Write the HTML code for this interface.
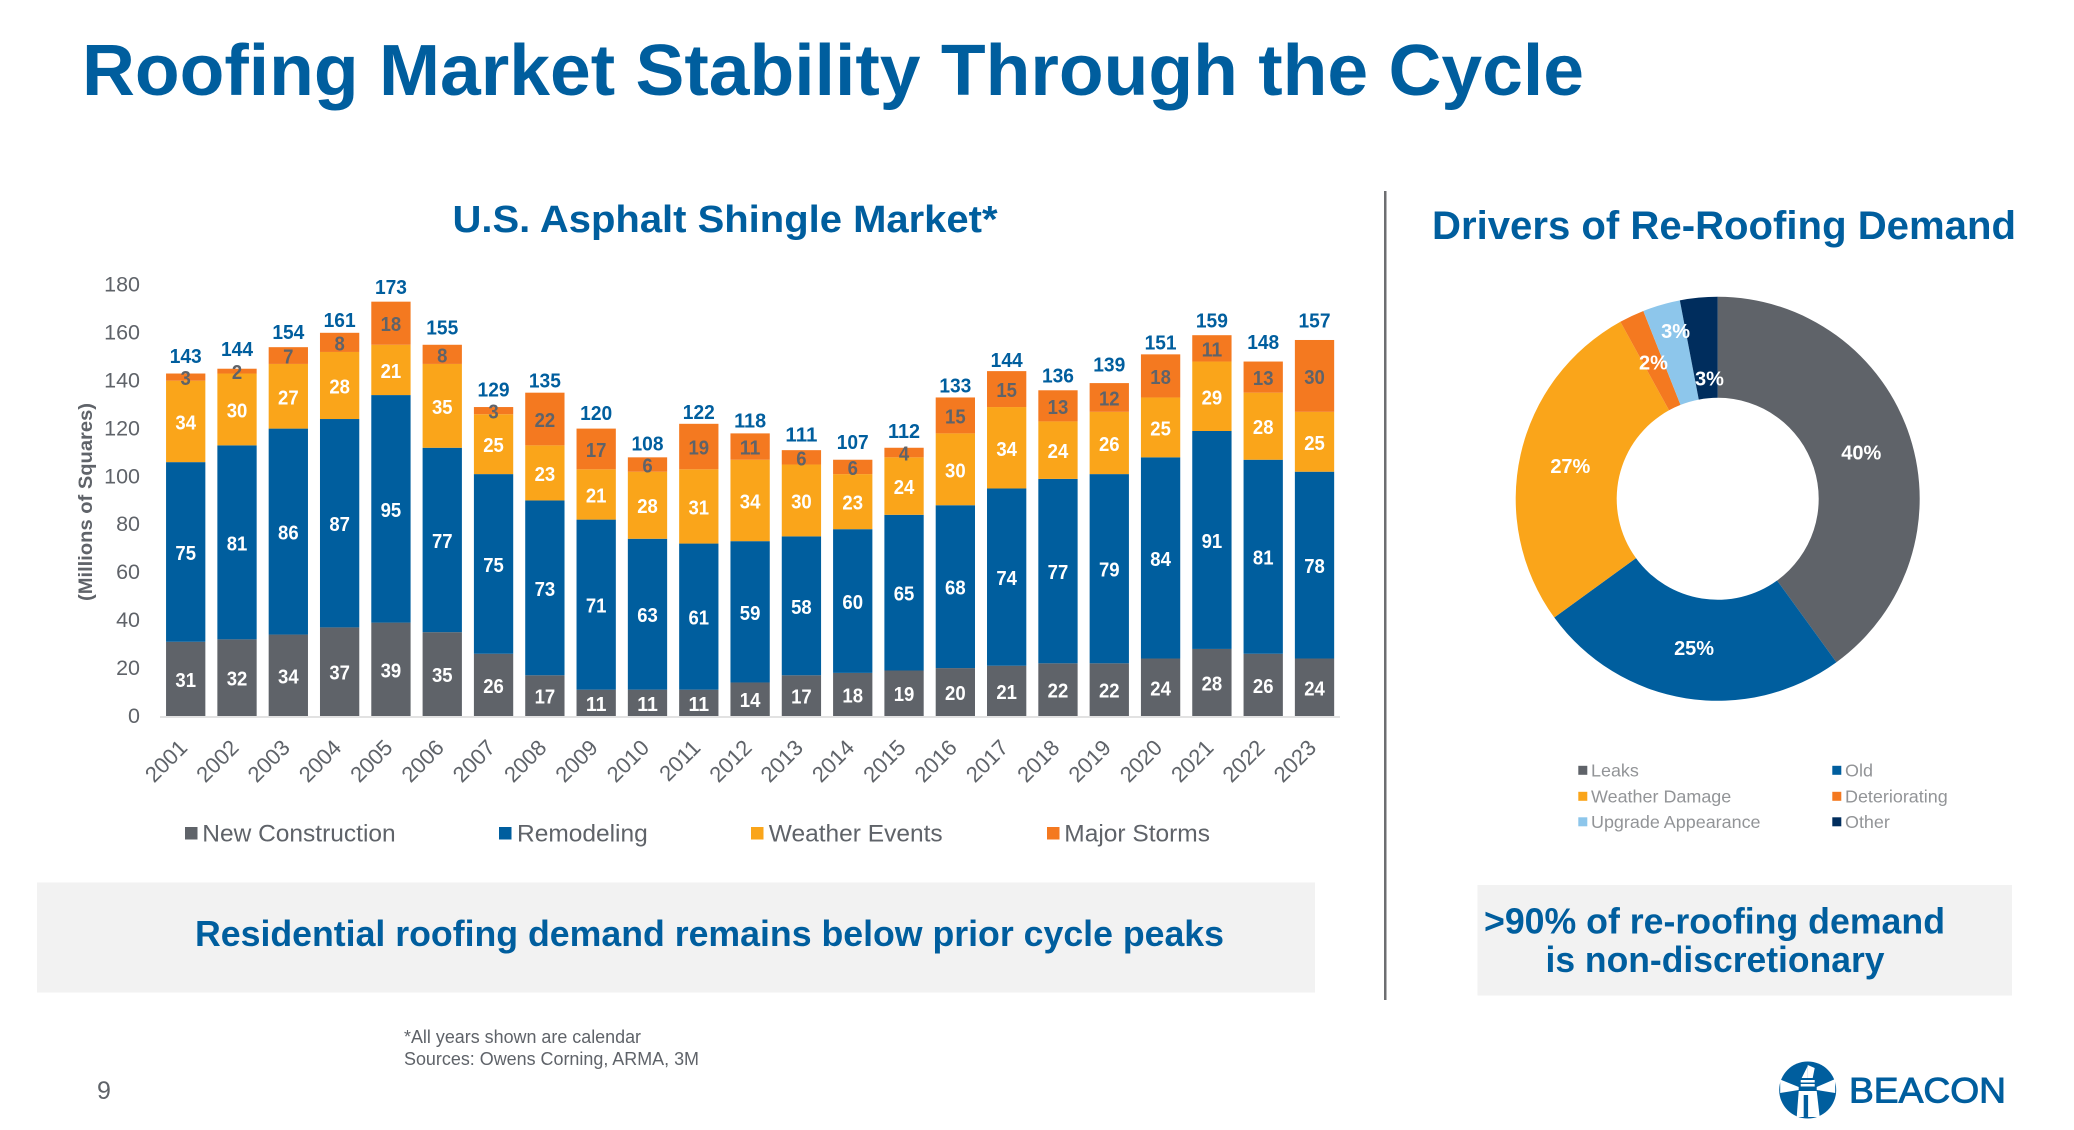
<!DOCTYPE html>
<html lang="en">
<head>
<meta charset="utf-8">
<title>Roofing Market Stability Through the Cycle</title>
<style>
html,body{margin:0;padding:0;background:#fff;width:2074px;height:1130px;overflow:hidden}
svg{display:block}
text{font-family:"Liberation Sans",Arial,sans-serif}
</style>
</head>
<body>
<svg id="slide" xmlns="http://www.w3.org/2000/svg" width="2074" height="1130" viewBox="0 0 2074 1130">
  <text x="82" y="95" font-size="72" font-weight="700" fill="#005E9E" textLength="1502" lengthAdjust="spacingAndGlyphs">Roofing Market Stability Through the Cycle</text>
  <text x="452.5" y="232" font-size="38" font-weight="700" fill="#005E9E" textLength="545" lengthAdjust="spacingAndGlyphs">U.S. Asphalt Shingle Market*</text>
  <text x="1432" y="239" font-size="40" font-weight="700" fill="#005E9E" textLength="584" lengthAdjust="spacingAndGlyphs">Drivers of Re-Roofing Demand</text>
  <rect x="1384" y="191" width="2.5" height="809" fill="#6D6E71"/>

  <g id="bar-chart"></g>
  <text transform="translate(92,502) rotate(-90)" text-anchor="middle" font-size="19" font-weight="700" fill="#5F6369" textLength="198" lengthAdjust="spacingAndGlyphs">(Millions of Squares)</text>

  <g>
    <g>
      <rect x="185" y="827" width="12.5" height="12.5" fill="#5F6369"/>
      <text x="202.3" y="841.5" font-size="24.5" fill="#5F6369">New Construction</text>
    </g>
    <g>
      <rect x="499" y="827" width="12.5" height="12.5" fill="#005E9E"/>
      <text x="517" y="841.5" font-size="24.5" fill="#5F6369">Remodeling</text>
    </g>
    <g>
      <rect x="751" y="827" width="12.5" height="12.5" fill="#FAA51A"/>
      <text x="768.8" y="841.5" font-size="24.5" fill="#5F6369">Weather Events</text>
    </g>
    <g>
      <rect x="1047" y="827" width="12.5" height="12.5" fill="#F47920"/>
      <text x="1064.3" y="841.5" font-size="24.5" fill="#5F6369">Major Storms</text>
    </g>
  </g>

  <g id="donut-chart"></g>

  <g font-size="17.95" fill="#929497">
    <g>
      <rect x="1578.3" y="765.8" width="9" height="9" fill="#5F6369"/>
      <text x="1591" y="776.5">Leaks</text>
    </g>
    <g>
      <rect x="1832.3" y="765.8" width="9" height="9" fill="#005E9E"/>
      <text x="1845" y="776.5">Old</text>
    </g>
    <g>
      <rect x="1578.3" y="791.8" width="9" height="9" fill="#FAA51A"/>
      <text x="1591" y="802.5">Weather Damage</text>
    </g>
    <g>
      <rect x="1832.3" y="791.8" width="9" height="9" fill="#F47920"/>
      <text x="1845" y="802.5">Deteriorating</text>
    </g>
    <g>
      <rect x="1578.3" y="817.3" width="9" height="9" fill="#8DC6EB"/>
      <text x="1591" y="828">Upgrade Appearance</text>
    </g>
    <g>
      <rect x="1832.3" y="817.3" width="9" height="9" fill="#002D5D"/>
      <text x="1845" y="828">Other</text>
    </g>
  </g>

  <g>
    <rect x="37" y="882.5" width="1278" height="110" fill="#F2F2F2"/>
    <text x="195" y="946" font-size="36" font-weight="700" fill="#005E9E" textLength="1029" lengthAdjust="spacingAndGlyphs">Residential roofing demand remains below prior cycle peaks</text>
  </g>
  <g>
    <rect x="1477.5" y="885" width="534.5" height="110.5" fill="#F2F2F2"/>
    <text x="1484" y="933.3" font-size="36" font-weight="700" fill="#005E9E" textLength="461" lengthAdjust="spacingAndGlyphs">&gt;90% of re-roofing demand</text>
    <text x="1545.5" y="972.2" font-size="36" font-weight="700" fill="#005E9E" textLength="339" lengthAdjust="spacingAndGlyphs">is non-discretionary</text>
  </g>

  <text x="404" y="1043" font-size="18" fill="#5F6369" textLength="237" lengthAdjust="spacingAndGlyphs">*All years shown are calendar</text>
  <text x="404" y="1065" font-size="18" fill="#5F6369" textLength="295" lengthAdjust="spacingAndGlyphs">Sources: Owens Corning, ARMA, 3M</text>
  <text x="97" y="1099" font-size="25" fill="#5F6369">9</text>

  <g>
    <g transform="translate(1807.7,1090)">
      <circle cx="0" cy="0" r="28.5" fill="#005E9E"/>
      <path d="M-27.5,-10.5 L-9,-3 L-9,0 L-27.5,3 Z" fill="#fff"/>
      <path d="M27.5,-11 L9,-3 L9,0 L27.5,3 Z" fill="#fff"/>
      <path d="M0,-25 L7,-22 L5,-12 L0,-12 Z" fill="#fff"/>
      <path d="M0,-24 L-6,-12 L0,-12 Z" fill="#fff"/>
      <rect x="-7" y="-10" width="14" height="2.5" fill="#fff"/>
      <rect x="-7" y="-6" width="14" height="2.5" fill="#fff"/>
      <path d="M-9,1 L9,1 L12,27 L-11,27 Z" fill="#fff"/>
      <rect x="-4" y="5" width="4.4" height="23" fill="#005E9E"/>
    </g>
    <text x="1849" y="1102.7" font-size="35" font-weight="400" fill="#005E9E" stroke="#005E9E" stroke-width="0.9" textLength="157" lengthAdjust="spacingAndGlyphs">BEACON</text>
  </g>
</svg>

<script>
/* ---------- bar chart data ---------- */
const years = ['2001','2002','2003','2004','2005','2006','2007','2008','2009','2010','2011','2012','2013','2014','2015','2016','2017','2018','2019','2020','2021','2022','2023'];
const newConstruction = [31,32,34,37,39,35,26,17,11,11,11,14,17,18,19,20,21,22,22,24,28,26,24];
const remodeling = [75,81,86,87,95,77,75,73,71,63,61,59,58,60,65,68,74,77,79,84,91,81,78];
const weatherEvents = [34,30,27,28,21,35,25,23,21,28,31,34,30,23,24,30,34,24,26,25,29,28,25];
const majorStorms = [3,2,7,8,18,8,3,22,17,6,19,11,6,6,4,15,15,13,12,18,11,13,30];
const totalLabels = [143,144,154,161,173,155,129,135,120,108,122,118,111,107,112,133,144,136,139,151,159,148,157];
const yTicks = [0,20,40,60,80,100,120,140,160,180];

/* ---------- donut data ---------- */
const driverNames = ['Leaks','Old','Weather Damage','Deteriorating','Upgrade Appearance','Other'];
const driverShares = [40,25,27,2,3,3];

/* ---------- styling / layout ---------- */
const seriesKeys = ['new-construction','remodeling','weather-events','major-storms'];
const seriesColors = ['#5F6369','#005E9E','#FAA51A','#F47920'];
const seriesLabelColors = ['#FFFFFF','#FFFFFF','#FFFFFF','#5F6369'];
const totalLabelLift = [18,20,15.5,13,15,17.6,18,12.6,16,14,12,13,16,18,17.3,12.2,11.5,15,19,12,15,20,20];
const sliceColors = ['#5F6369','#005E9E','#FAA51A','#F47920','#8DC6EB','#002D5D'];
const sliceLabelNudgeX = [0,0,0,0,0,6];
const sliceLabelNudgeY = [0,0,0,0,-23,30];

const SVG_NS = 'http://www.w3.org/2000/svg';
const BASE_Y = 716;
const PX_PER_UNIT = 2.395;
const FIRST_X = 185.7;
const STEP_X = 51.31;
const BAR_W = 39.3;
function yScale(v){ return BASE_Y - v * PX_PER_UNIT; }
function xScale(i){ return FIRST_X + i * STEP_X; }

const barChart = document.getElementById('bar-chart');
const series = [newConstruction, remodeling, weatherEvents, majorStorms];

/* y-axis tick labels */
yTicks.forEach(function(t){
  const el = document.createElementNS(SVG_NS,'text');
  
  
  el.setAttribute('x', 140);
  el.setAttribute('y', yScale(t) + 6.8);
  el.setAttribute('text-anchor', 'end');
  el.setAttribute('font-size', '21.5');
  el.setAttribute('fill', '#5F6369');
  el.textContent = String(t);
  barChart.appendChild(el);
});

/* stacked bars + segment labels */
years.forEach(function(year, i){
  let cum = 0;
  series.forEach(function(values, s){
    const v = values[i];
    const rect = document.createElementNS(SVG_NS,'rect');
    
    
    rect.setAttribute('x', xScale(i) - BAR_W / 2);
    rect.setAttribute('y', yScale(cum + v));
    rect.setAttribute('width', BAR_W);
    rect.setAttribute('height', v * PX_PER_UNIT);
    rect.setAttribute('fill', seriesColors[s]);
    barChart.appendChild(rect);
    cum += v;
  });
});
years.forEach(function(year, i){
  let cum = 0;
  series.forEach(function(values, s){
    const v = values[i];
    const str = String(v);
    const label = document.createElementNS(SVG_NS,'text');
    
    
    label.setAttribute('x', xScale(i));
    label.setAttribute('y', yScale(cum + v / 2) + 8);
    label.setAttribute('text-anchor', 'middle');
    label.setAttribute('font-size', '20');
    label.setAttribute('font-weight', '700');
    label.setAttribute('fill', seriesLabelColors[s]);
    label.setAttribute('textLength', str.length * 10.3);
    label.setAttribute('lengthAdjust', 'spacingAndGlyphs');
    label.textContent = str;
    barChart.appendChild(label);
    cum += v;
  });
  const top = newConstruction[i] + remodeling[i] + weatherEvents[i] + majorStorms[i];
  const total = document.createElementNS(SVG_NS,'text');
  
  
  total.setAttribute('x', xScale(i));
  total.setAttribute('y', yScale(top) - totalLabelLift[i] + 7.3);
  total.setAttribute('text-anchor', 'middle');
  total.setAttribute('font-size', '20');
  total.setAttribute('font-weight', '700');
  total.setAttribute('fill', '#005E9E');
  total.setAttribute('textLength', 32);
  total.setAttribute('lengthAdjust', 'spacingAndGlyphs');
  total.textContent = String(totalLabels[i]);
  barChart.appendChild(total);

  const tick = document.createElementNS(SVG_NS,'text');
  const tx = xScale(i) + 3;
  const ty = 749;
  
  
  tick.setAttribute('x', tx);
  tick.setAttribute('y', ty);
  tick.setAttribute('text-anchor', 'end');
  tick.setAttribute('font-size', '22');
  tick.setAttribute('fill', '#5F6369');
  tick.setAttribute('transform', 'rotate(-45 ' + tx + ' ' + ty + ')');
  tick.textContent = year;
  barChart.appendChild(tick);
});

/* x-axis line */
const axisLine = document.createElementNS(SVG_NS,'line');


axisLine.setAttribute('x1', 160);
axisLine.setAttribute('x2', 1340);
axisLine.setAttribute('y1', BASE_Y + 1);
axisLine.setAttribute('y2', BASE_Y + 1);
axisLine.setAttribute('stroke', '#D9D9D9');
axisLine.setAttribute('stroke-width', '1.5');
barChart.appendChild(axisLine);

/* donut */
const donut = document.getElementById('donut-chart');
const CX = 1717.7, CY = 498.8, R_OUT = 202, R_IN = 101, R_LABEL = 151;
const shareSum = driverShares.reduce(function(a,b){ return a + b; }, 0);
function polar(r, angle){
  return [CX + r * Math.sin(angle), CY - r * Math.cos(angle)];
}
let running = 0;
driverShares.forEach(function(share, i){
  const a0 = running / shareSum * 2 * Math.PI;
  running += share;
  const a1 = running / shareSum * 2 * Math.PI;
  const large = (a1 - a0) > Math.PI ? 1 : 0;
  const p0 = polar(R_OUT, a0), p1 = polar(R_OUT, a1), p2 = polar(R_IN, a1), p3 = polar(R_IN, a0);
  const key = driverNames[i].toLowerCase().replace(/ /g, '-');
  const slice = document.createElementNS(SVG_NS,'path');
  
  
  slice.setAttribute('d', 'M' + p0[0] + ',' + p0[1] + ' A' + R_OUT + ',' + R_OUT + ' 0 ' + large + ' 1 ' + p1[0] + ',' + p1[1] +
    ' L' + p2[0] + ',' + p2[1] + ' A' + R_IN + ',' + R_IN + ' 0 ' + large + ' 0 ' + p3[0] + ',' + p3[1] + ' Z');
  slice.setAttribute('fill', sliceColors[i]);
  donut.appendChild(slice);
});
running = 0;
driverShares.forEach(function(share, i){
  const mid = (running + share / 2) / shareSum * 2 * Math.PI;
  running += share;
  const pos = polar(R_LABEL, mid);
  const key = driverNames[i].toLowerCase().replace(/ /g, '-');
  const pct = document.createElementNS(SVG_NS,'text');
  
  
  pct.setAttribute('x', pos[0] + sliceLabelNudgeX[i]);
  pct.setAttribute('y', pos[1] + sliceLabelNudgeY[i] + 7.2);
  pct.setAttribute('text-anchor', 'middle');
  pct.setAttribute('font-size', '20');
  pct.setAttribute('font-weight', '700');
  pct.setAttribute('fill', '#FFFFFF');
  pct.textContent = share + '%';
  donut.appendChild(pct);
});
</script>
</body>
</html>
